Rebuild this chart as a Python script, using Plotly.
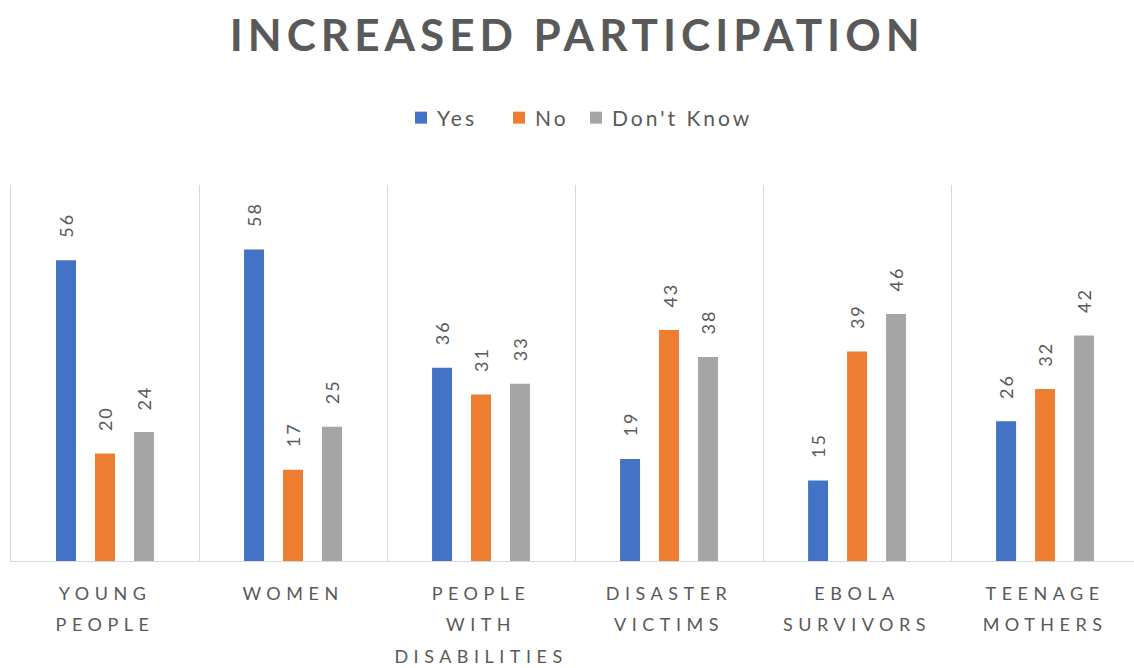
import json
import plotly.graph_objects as go

categories = ["YOUNG<br>PEOPLE", "WOMEN", "PEOPLE<br>WITH<br>DISABILITIES",
              "DISASTER<br>VICTIMS", "EBOLA<br>SURVIVORS", "TEENAGE<br>MOTHERS"]
yes_vals = [56, 58, 36, 19, 15, 26]
no_vals = [20, 17, 31, 43, 39, 32]
dk_vals = [24, 25, 33, 38, 46, 42]
series_names = ["Yes", "No", "Don't Know"]
series_vals = [yes_vals, no_vals, dk_vals]
colors = ["#4472C4", "#ED7D31", "#A5A5A5"]

W, H = 1134, 668
ML, MR, MT, MB = 11, 0, 185, 107
x_range = [-0.5, 5.473]
bargap = 0.378
bargroupgap = 0.487
text_col = "#595959"
font = "Lato"
legend_ids = ["legend", "legend2", "legend3"]
legend_center_px = [421, 519, 596]   # centre of each legend swatch, in pixels
swatch_center_offset = 20

PW = W - ML - MR
PH = H - MT - MB

fig = go.Figure()
for name, vals, col, lid in zip(series_names, series_vals, colors, legend_ids):
    fig.add_trace(go.Bar(x=categories, y=vals, name=name, marker_color=col,
                         marker_line_width=0, legend=lid))

# data labels (rotated) placed above each bar
cat_px = PW / (x_range[1] - x_range[0])
slot_px = cat_px * (1 - bargap) / 3
for i, vals in enumerate(series_vals):
    for c, v in zip(categories, vals):
        fig.add_annotation(x=c, y=v, text=str(v), textangle=-90, showarrow=False,
                           xshift=(i - 1) * slot_px, yshift=22, yanchor="bottom",
                           font=dict(family=font, size=18, color=text_col))

legend_common = dict(orientation="h", xanchor="left", y=1 + (MT - 118) / PH,
                     yanchor="middle", font=dict(family=font, size=21, color=text_col),
                     itemwidth=30, bgcolor="rgba(0,0,0,0)")
leg_layout = {}
for lid, px in zip(legend_ids, legend_center_px):
    leg_layout[lid] = dict(legend_common, x=(px - swatch_center_offset - ML) / PW)

fig.update_layout(
    width=W, height=H,
    margin=dict(l=ML, r=MR, t=MT, b=MB),
    paper_bgcolor="white", plot_bgcolor="white",
    barmode="group", bargap=bargap, bargroupgap=bargroupgap,
    title=dict(text="<b>INCREASED PARTICIPATION</b>", x=0.509, xanchor="center",
               y=1 - 36 / H, yanchor="middle",
               font=dict(family=font, size=44, color=text_col)),
    showlegend=True,
    xaxis=dict(type="category", range=x_range, tickson="boundaries", showgrid=True,
               gridcolor="#d9d9d9", gridwidth=1, showline=True, linecolor="#d9d9d9",
               ticks="", tickfont=dict(family=font, size=18, color=text_col),
               ticklabelstandoff=16, fixedrange=True),
    yaxis=dict(range=[0, 70], showgrid=False, zeroline=False, showticklabels=False,
               showline=True, linecolor="#d9d9d9", ticks="", fixedrange=True),
    **leg_layout,
)

post = """
var css = document.createElement('style');
css.textContent = [
  '.xtick text { letter-spacing: 5.5px !important; }',
  '.gtitle { letter-spacing: 5px !important; }',
  '.annotation-text { letter-spacing: 2px !important; }',
  '.legendtext { letter-spacing: 3px !important; transform: translateX(-4px); }',
  '.scrollbox { clip-path: none !important; }'
].join(' ');
document.head.appendChild(css);
var gd = document.getElementById('{plot_id}');
var names = NAMES_JSON;
function tweak(){
  gd.querySelectorAll('.xtick text').forEach(function(t){
    t.querySelectorAll('tspan.line').forEach(function(s, i){ if(i>0){ s.setAttribute('dy', (i*1.75) + 'em'); } });
  });
  gd.querySelectorAll('text').forEach(function(t){
    if (names.indexOf(t.textContent) >= 0 && !t.closest('.xtick')) {
      t.style.setProperty('letter-spacing', '3px', 'important');
      t.style.transform = 'translateX(-4px)';
      var p = t.parentNode;
      while (p && p !== gd) {
        if (p.getAttribute && p.getAttribute('clip-path')) { p.removeAttribute('clip-path'); }
        if (p.style) { p.style.clipPath = 'none'; }
        p = p.parentNode;
      }
    }
  });
}
tweak();
if (gd.on) { gd.on('plotly_afterplot', tweak); }
var obs = new MutationObserver(function(){ obs.disconnect(); tweak(); obs.observe(gd, {childList: true, subtree: true}); });
obs.observe(gd, {childList: true, subtree: true});
setTimeout(tweak, 50);
setTimeout(tweak, 300);
""".replace("NAMES_JSON", json.dumps(series_names))
fig.write_html("out.html", post_script=post, config={"displayModeBar": False})
